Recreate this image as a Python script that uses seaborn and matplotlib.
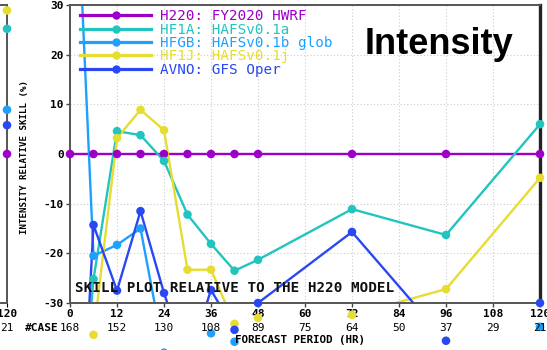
import matplotlib
matplotlib.use("Agg")
import matplotlib.pyplot as plt
import seaborn as sns
import pandas as pd
from matplotlib.lines import Line2D

# ---------------- data ----------------
hours = [0, 6, 12, 18, 24, 30, 36, 42, 48, 72, 96, 120]
h220 = [0, 0, 0, 0, 0, 0, 0, 0, 0, 0, 0, 0]
hf1a = [-80, -25.2, 4.6, 3.8, -1.4, -12.2, -18.1, -23.5, -21.3, -11.1, -16.3, 6.0]
hfgb = [85, -20.5, -18.3, -15.0, -40, -45, -36.1, -37.8, -45, -48, -45, -34.8]
hf1j = [-60, -36.4, 3.2, 8.9, 4.8, -23.3, -23.3, -34.2, -33.0, -32.4, -27.2, -4.8]
avno = [-104, -14.3, -27.5, -11.5, -28.0, -42, -27.4, -35.4, -30.0, -15.7, -37.6, -30.0]

models = ["H220", "HF1A", "HFGB", "HF1J", "AVNO"]
labels = ["H220: FY2020 HWRF", "HF1A: HAFSv0.1a", "HFGB: HAFSv0.1b glob",
          "HF1J: HAFSv0.1j", "AVNO: GFS Oper"]
colors = ["#9c00c8", "#22c4bf", "#1ea0ff", "#e6dc32", "#2a48f2"]

xticks = [0, 12, 24, 36, 48, 60, 72, 84, 96, 108, 120]
cases = [168, 152, 130, 108, 89, 75, 64, 50, 37, 29, 21]
yticks = [-30, -20, -10, 0, 10, 20, 30]

# neighbouring (cut-off) panel: values at 120 h
left_vals = [0, 25.2, 8.9, 28.9, 5.8]
left_case = 21

series = {"H220": h220, "HF1A": hf1a, "HFGB": hfgb, "HF1J": hf1j, "AVNO": avno}
df = pd.DataFrame([(m, h, v) for m in models for h, v in zip(hours, series[m])],
                  columns=["model", "hour", "skill"])
pal = dict(zip(models, colors))

# ---------------- figure ----------------
W, H = 547, 350
fig = plt.figure(figsize=(W / 100, H / 100), dpi=100)
mono = "DejaVu Sans Mono"

x0, x1, ytop, ybot = 70, 540, 5, 303
ax = fig.add_axes([x0 / W, 1 - ybot / H, (x1 - x0) / W, (ybot - ytop) / H])

sns.lineplot(data=df, x="hour", y="skill", hue="model", hue_order=models,
             palette=pal, linewidth=1.7, ax=ax, legend=False, sort=False,
             estimator=None)
sns.scatterplot(data=df, x="hour", y="skill", hue="model", hue_order=models,
                palette=pal, s=38, linewidth=0, ax=ax, legend=False,
                clip_on=False, zorder=3)

ax.set_xlim(0, 120)
ax.set_ylim(-30, 30)
ax.set_xticks(xticks)
ax.set_xticklabels([str(t) for t in xticks], family=mono, fontsize=8,
                   fontweight="bold")
ax.set_yticks(yticks)
ax.set_yticklabels([str(t) for t in yticks], family=mono, fontsize=8,
                   fontweight="bold")
ax.tick_params(axis="both", direction="out", length=3, width=1,
               color="#444444", pad=1.5)
ax.grid(True, color="#cccccc", linestyle=(0, (1, 2)), linewidth=0.8)
ax.set_axisbelow(True)
for s in ax.spines.values():
    s.set_color("#555555")
    s.set_linewidth(1.4)
ax.spines["right"].set_color("#222222")
ax.spines["right"].set_linewidth(2.4)
ax.set_xlabel("")
ax.set_ylabel("INTENSITY RELATIVE SKILL (%)", family=mono, fontsize=6.6,
              fontweight="bold")
ax.yaxis.set_label_coords(-0.087, 0.49)

# case counts row
xt = ax.get_xaxis_transform()
for t, c in zip(xticks, cases):
    ax.text(t, -0.083, str(c), transform=xt, ha="center", va="center",
            family=mono, fontsize=8, clip_on=False)
ax.text(-0.025, -0.083, "#CASE", transform=ax.transAxes, ha="right",
        va="center", family=mono, fontsize=8, fontweight="bold")
ax.text(0.49, -0.125, "FORECAST PERIOD (HR)", transform=ax.transAxes,
        ha="center", va="center", family=mono, fontsize=7.8, fontweight="bold")

ax.text(0.01, 0.05, "SKILL PLOT RELATIVE TO THE H220 MODEL",
        transform=ax.transAxes, ha="left", va="center", family=mono,
        fontsize=10.3, fontweight="bold", color="#111111")
ax.text(0.943, 0.868, "Intensity", transform=ax.transAxes, ha="right",
        va="center", family="Liberation Sans", fontsize=26, fontweight="bold",
        color="black")

handles = [Line2D([0], [0], color=c, lw=2.3, marker="o", ms=6,
                  markeredgewidth=0) for c in colors]
leg = ax.legend(handles, labels, loc="upper left",
                bbox_to_anchor=(0.021, 0.985), frameon=False,
                prop={"family": mono, "size": 10.3}, labelcolor=colors,
                handlelength=5.0, handletextpad=0.6, labelspacing=-0.05,
                borderpad=0, borderaxespad=0, numpoints=1)

# neighbouring panel, cut off on the left
lw_ = x1 - x0
ax2 = fig.add_axes([(7 - lw_) / W, 1 - ybot / H, lw_ / W, (ybot - ytop) / H])
ax2.set_xlim(0, 120)
ax2.set_ylim(-30, 30)
ax2.scatter([120] * len(left_vals), left_vals, c=colors, s=38, linewidth=0,
            clip_on=False, zorder=3)
ax2.set_xticks([120])
ax2.set_xticklabels(["120"], family=mono, fontsize=8, fontweight="bold")
ax2.set_yticks([])
ax2.tick_params(axis="x", direction="out", length=3, pad=1.5)
for s in ax2.spines.values():
    s.set_color("#555555")
    s.set_linewidth(1.4)
ax2.text(120, -0.083, str(left_case), transform=ax2.get_xaxis_transform(),
         ha="center", va="center", family=mono, fontsize=8, clip_on=False)

fig.savefig("out.png", dpi=100)
